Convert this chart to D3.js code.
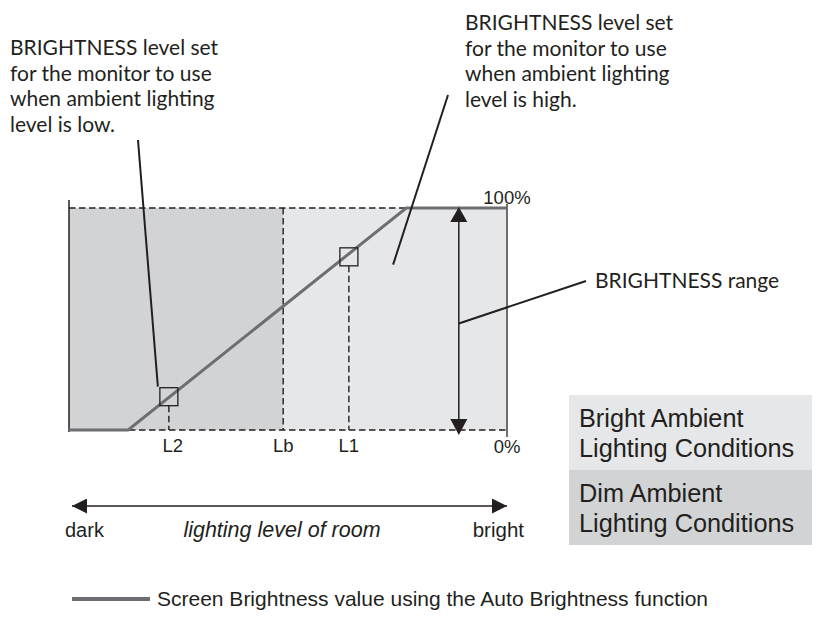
<!DOCTYPE html>
<html>
<head>
<meta charset="utf-8">
<script src="https://cdn.jsdelivr.net/npm/d3@7"></script>
<style>
  body { margin: 0; background: #fff; }
  .note { font-family: Lato, "Open Sans", sans-serif; font-size: 21px; fill: #231f20; }
  .lab { font-family: "Liberation Sans", Arial, sans-serif; fill: #231f20; }
</style>
</head>
<body>
<div class="chart"></div>
<script>
// lighting level of the room (0 = dark, 100 = bright) vs screen brightness (%)
const lightLevel = [0, 13.5, 77, 100];
const brightness = [0, 0, 100, 100];

// marked levels on the x axis
const tickNames = ["L2", "Lb", "L1"];
const tickLevels = [22.8, 48.9, 63.9];

// brightness picked at L2 and L1
const markNames = ["L2", "L1"];
const markLevels = [22.8, 63.9];
const markValues = [15, 78];

// zones
const zoneNames = ["Dim Ambient Lighting Conditions", "Bright Ambient Lighting Conditions"];
const zoneStart = [0, 48.9];
const zoneEnd = [48.9, 100];
const zoneColors = ["#d1d3d4", "#e6e7e8"];

const yTickLabels = ["0%", "100%"];
const yTickValues = [0, 100];

const lineColor = "#6d6e71";

const width = 820, height = 632;
const svg = d3.select(".chart").append("svg")
    .attr("width", width)
    .attr("height", height);

const x = d3.scaleLinear().domain([0, 100]).range([69, 507]);
const y = d3.scaleLinear().domain([0, 100]).range([430, 208]);

// zone backgrounds
svg.selectAll("rect.zone")
    .data(zoneStart)
    .enter()
    .append("rect")
    .attr("class", "zone")
    .attr("x", d => x(d))
    .attr("y", y(100))
    .attr("width", (d, i) => x(zoneEnd[i]) - x(d))
    .attr("height", y(0) - y(100))
    .attr("fill", (d, i) => zoneColors[i]);

// dashed frame lines
const dash = "6.5,3.5";
svg.append("line")
    .attr("x1", x(0)).attr("x2", x(100))
    .attr("y1", y(100)).attr("y2", y(100))
    .attr("stroke", "#231f20").attr("stroke-width", 1.4)
    .attr("stroke-dasharray", dash);
svg.append("line")
    .attr("x1", x(0)).attr("x2", x(100))
    .attr("y1", y(0)).attr("y2", y(0))
    .attr("stroke", "#231f20").attr("stroke-width", 1.4)
    .attr("stroke-dasharray", dash);

// solid side lines
svg.append("line")
    .attr("x1", x(0)).attr("x2", x(0))
    .attr("y1", y(100) - 8).attr("y2", y(0) + 2)
    .attr("stroke", "#231f20").attr("stroke-width", 1.5);
svg.append("line")
    .attr("x1", x(100)).attr("x2", x(100))
    .attr("y1", y(100) - 4).attr("y2", y(0) + 7)
    .attr("stroke", "#414042").attr("stroke-width", 1.5);

// vertical dashed drops for the ticks
svg.selectAll("line.drop")
    .data(tickLevels)
    .enter()
    .append("line")
    .attr("class", "drop")
    .attr("x1", d => x(d)).attr("x2", d => x(d))
    .attr("y1", (d, i) => {
        const k = markNames.indexOf(tickNames[i]);
        return k < 0 ? y(100) : y(markValues[k]) + 9;
    })
    .attr("y2", y(0))
    .attr("stroke", "#231f20").attr("stroke-width", 1.4)
    .attr("stroke-dasharray", dash);

// tick labels
svg.selectAll("text.tick")
    .data(tickNames)
    .enter()
    .append("text")
    .attr("class", "lab tick")
    .attr("x", (d, i) => x(tickLevels[i]) + (d === "L2" ? 4 : 0))
    .attr("y", y(0) + 22)
    .attr("text-anchor", "middle")
    .style("font-size", "18.5px")
    .text(d => d);

svg.selectAll("text.ytick")
    .data(yTickLabels)
    .enter()
    .append("text")
    .attr("class", "lab ytick")
    .attr("x", x(100))
    .attr("y", (d, i) => yTickValues[i] === 0 ? y(0) + 23 : y(100) - 4)
    .attr("text-anchor", "middle")
    .style("font-size", "18.5px")
    .text(d => d);

// auto brightness line
const line = d3.line()
    .x((d, i) => x(lightLevel[i]))
    .y(d => y(d));
svg.append("path")
    .datum(brightness)
    .attr("d", line)
    .attr("fill", "none")
    .attr("stroke", lineColor)
    .attr("stroke-width", 3);

// marker boxes
svg.selectAll("rect.mark")
    .data(markLevels)
    .enter()
    .append("rect")
    .attr("class", "mark")
    .attr("x", d => x(d) - 9)
    .attr("y", (d, i) => y(markValues[i]) - 9)
    .attr("width", 18)
    .attr("height", 18)
    .attr("fill", "none")
    .attr("stroke", "#231f20")
    .attr("stroke-width", 1.3);

// arrowheads
const defs = svg.append("defs");
defs.append("marker")
    .attr("id", "tri")
    .attr("viewBox", "0 0 10 10")
    .attr("markerWidth", 16)
    .attr("markerHeight", 15)
    .attr("refX", 10)
    .attr("refY", 5)
    .attr("markerUnits", "userSpaceOnUse")
    .attr("orient", "auto-start-reverse")
    .append("path")
    .attr("d", "M0,0 L10,5 L0,10 Z")
    .attr("fill", "#231f20");

// brightness range arrow
const rangeLevel = 89;
svg.append("line")
    .attr("x1", x(rangeLevel)).attr("x2", x(rangeLevel))
    .attr("y1", y(100) + 14).attr("y2", y(0) - 10)
    .attr("stroke", "#231f20").attr("stroke-width", 1.5);
svg.append("path")
    .attr("d", `M${x(rangeLevel)},${y(100) - 1} l-8.5,15 l17,0 Z`)
    .attr("fill", "#231f20");
svg.append("path")
    .attr("d", `M${x(rangeLevel)},${y(0) + 5} l-8.5,-16 l17,0 Z`)
    .attr("fill", "#231f20");

// leader lines
svg.append("line")
    .attr("x1", 138).attr("y1", 140)
    .attr("x2", x(markLevels[0]) - 11).attr("y2", y(markValues[0]) - 10)
    .attr("stroke", "#231f20").attr("stroke-width", 2);
svg.append("line")
    .attr("x1", 448).attr("y1", 95)
    .attr("x2", x(74)).attr("y2", y(74.5))
    .attr("stroke", "#231f20").attr("stroke-width", 2);
svg.append("line")
    .attr("x1", x(rangeLevel)).attr("y1", y(48))
    .attr("x2", 586).attr("y2", 281)
    .attr("stroke", "#231f20").attr("stroke-width", 2);

// annotation texts
function note(lines, x0, y0) {
    const t = svg.append("text").attr("class", "note").attr("x", x0).attr("y", y0);
    t.selectAll("tspan")
        .data(lines)
        .enter()
        .append("tspan")
        .attr("x", x0)
        .attr("dy", (d, i) => i === 0 ? 0 : 25.5)
        .text(d => d);
}
note(["BRIGHTNESS level set", "for the monitor to use", "when ambient lighting", "level is low."], 10, 55);
note(["BRIGHTNESS level set", "for the monitor to use", "when ambient lighting", "level is high."], 465, 30);
note(["BRIGHTNESS range"], 595, 288);

// room lighting arrow
svg.append("line")
    .attr("x1", x(0) + 3).attr("x2", x(100))
    .attr("y1", 506).attr("y2", 506)
    .attr("stroke", "#231f20").attr("stroke-width", 1.5)
    .attr("marker-start", "url(#tri)")
    .attr("marker-end", "url(#tri)");

svg.append("text").attr("class", "lab")
    .attr("x", 65).attr("y", 537)
    .style("font-size", "20px")
    .text("dark");
svg.append("text").attr("class", "lab")
    .attr("x", 282).attr("y", 537)
    .attr("text-anchor", "middle")
    .style("font-size", "21.5px")
    .style("font-style", "italic")
    .text("lighting level of room");
svg.append("text").attr("class", "lab")
    .attr("x", 524).attr("y", 537)
    .attr("text-anchor", "end")
    .style("font-size", "20.5px")
    .text("bright");

// zone legend boxes (bright on top)
const legendOrder = [1, 0];
legendOrder.forEach((z, k) => {
    const top = 395 + k * 75;
    svg.append("rect")
        .attr("x", 569).attr("y", top)
        .attr("width", 243).attr("height", 75)
        .attr("fill", zoneColors[z]);
    const words = zoneNames[z].split(" ");
    const t = svg.append("text").attr("class", "lab")
        .attr("x", 579).attr("y", top + 32)
        .style("font-size", "25.3px");
    t.append("tspan").attr("x", 579).text(words.slice(0, 2).join(" "));
    t.append("tspan").attr("x", 579).attr("dy", 30).text(words.slice(2).join(" "));
});

// series legend
svg.append("line")
    .attr("x1", 72).attr("x2", 150)
    .attr("y1", 599).attr("y2", 599)
    .attr("stroke", lineColor).attr("stroke-width", 4);
svg.append("text").attr("class", "lab")
    .attr("x", 157).attr("y", 606)
    .style("font-size", "21px")
    .text("Screen Brightness value using the Auto Brightness function");
</script>
</body>
</html>
